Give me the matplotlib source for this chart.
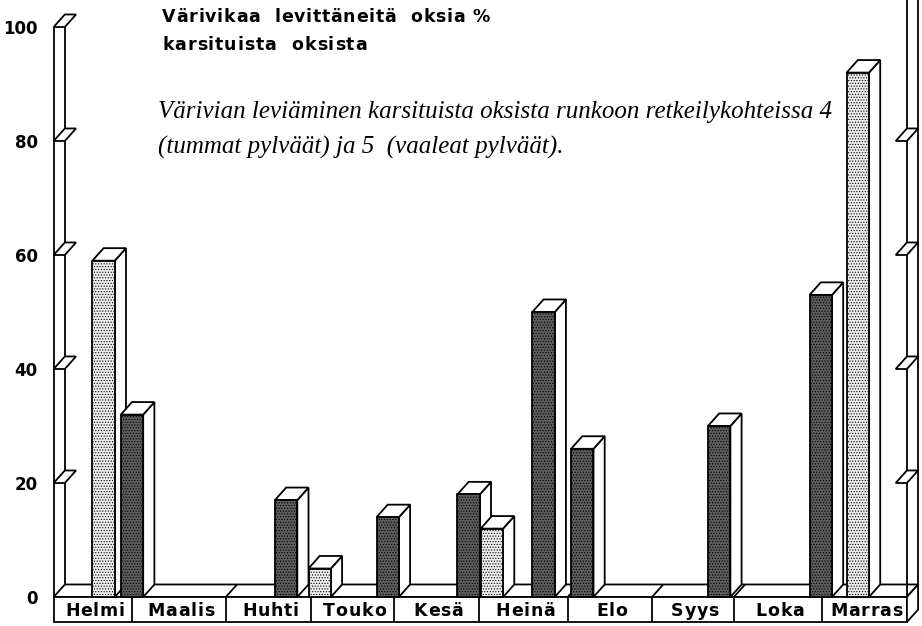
import numpy as np
import matplotlib.pyplot as plt
from matplotlib.patches import Polygon, Rectangle
from matplotlib.transforms import IdentityTransform
from matplotlib.font_manager import FontProperties, findfont
from matplotlib.ft2font import FT2Font

# month boxes along the bottom strip
months = ["Helmi", "Maalis", "Huhti", "Touko", "Kesä", "Heinä", "Elo", "Syys", "Loka", "Marras"]
# box edges on the time axis (months from start of Feb), as drawn in the figure
month_edges = [0.09, 1.0, 2.09, 3.08, 4.04, 5.03, 6.06, 7.04, 7.99, 9.01, 10.0]

# sampling time and % of pruned branches that spread the stain into the trunk
dark_time = [1.0, 2.79, 3.97, 4.91, 5.78, 6.23, 7.82, 9.0]     # site 4 (dark bars)
dark_pct = [32, 17, 14, 18, 50, 26, 30, 53]
light_time = [0.67, 3.18, 5.18, 9.43]                          # site 5 (light bars)
light_pct = [59, 5, 12, 92]

yticks = [0, 20, 40, 60, 80, 100]

# layout
W, H = 922, 626
START, END = month_edges[0], month_edges[-1]
DX, DY = 0.13, 2.2    # pseudo-3D depth offset in data units
STRIP = 4.4           # height of label strip
BW = 0.26             # bar width
LW = 1.3

plt.rcParams['hatch.linewidth'] = 0.5

fig = plt.figure(figsize=(W / 100, H / 100), dpi=100)
ax = fig.add_axes([53 / W, 0, 1 - 53 / W, 1])
ax.set_xlim(1 + (53 - 132) / 86.1, 1 + (W - 132) / 86.1)
ax.set_ylim(-29 / 5.70, 597 / 5.70)
for s in ax.spines.values():
    s.set_visible(False)
ax.set_xticks([])
ax.set_yticks(yticks, [str(t) for t in yticks])
ax.tick_params(axis='y', length=0, pad=11, labelsize=12)
for lab in ax.get_yticklabels():
    lab.set_fontweight('bold')


def poly(pts, z, fc='white'):
    ax.add_patch(Polygon(pts, closed=True, facecolor=fc, edgecolor='black',
                         linewidth=LW, zorder=z, clip_on=False, joinstyle='miter'))


def line(xs, ys, z=1.5):
    ax.plot(xs, ys, color='black', linewidth=LW, zorder=z, clip_on=False,
            solid_capstyle='butt')


def advances(s, size, weight='bold'):
    f = FT2Font(findfont(FontProperties(family='DejaVu Sans', weight=weight)))
    f.set_size(size, 100)
    return [f.load_char(ord(c)).linearHoriAdvance / 65536 for c in s]


def tracked(x, y, s, size, extra=0.0, width=None, ha='left'):
    # letter-spaced text, x/y in pixels from top-left
    adv = advances(s, size)
    natural = sum(adv)
    if width is not None:
        extra = (width - natural) / (len(s) - 1)
    total = natural + extra * (len(s) - 1)
    if ha == 'center':
        x = x - total / 2
    for ch, a in zip(s, adv):
        if ch != ' ':
            fig.text(x, H - y, ch, transform=IdentityTransform(), va='center',
                     fontsize=size, fontweight='bold', zorder=6)
        x += a + extra


# floor
poly([(START, 0), (END, 0), (END + DX, DY), (START + DX, DY)], 1)
for u in month_edges[1:-1]:
    line([u, u + DX], [0, DY])

# label strip
ax.add_patch(Rectangle((START, -STRIP), END - START, STRIP, facecolor='white',
                       edgecolor='black', linewidth=LW, zorder=1, clip_on=False))
poly([(END, 0), (END + DX, DY), (END + DX, DY - STRIP), (END, -STRIP)], 1)
for i, name in enumerate(months):
    if i > 0:
        line([month_edges[i], month_edges[i]], [0, -STRIP])
    cx, cy = ax.transData.transform(((month_edges[i] + month_edges[i + 1]) / 2, -STRIP / 2))
    tracked(cx + 2, H - cy + 1, name, 12.5, extra=0.8, ha='center')

# left wall with tick flags
top = ax.get_ylim()[1]
line([START, START], [0, 100])
line([START + DX, START + DX], [DY, 100])
for v in yticks[1:]:
    poly([(START, v), (START + DX, v), (START + 2 * DX, v + DY), (START + DX, v + DY)], 1.6)

# right wall with tick flags
line([END, END], [0, top])
line([END + DX, END + DX], [DY, top])
for v in yticks[1:-1]:
    poly([(END - DX, v), (END, v), (END + DX, v + DY), (END, v + DY)], 1.6)

# bars, drawn from left to right so nearer ones overlap
bars = [(t, p, 'dark') for t, p in zip(dark_time, dark_pct)] + \
       [(t, p, 'light') for t, p in zip(light_time, light_pct)]
bars.sort()
for i, (t, p, kind) in enumerate(bars):
    z = 2 + i * 0.05
    fc = '#5c5c5c' if kind == 'dark' else '#ececec'
    ax.bar(t, p, width=BW, facecolor=fc, edgecolor='black', linewidth=LW,
           hatch='......', zorder=z)
    x0, x1 = t - BW / 2, t + BW / 2
    poly([(x1, 0), (x1 + DX, DY), (x1 + DX, p + DY), (x1, p)], z - 0.01)
    poly([(x0, p), (x1, p), (x1 + DX, p + DY), (x0 + DX, p + DY)], z - 0.01)

# headings
tracked(162, 17, "Värivikaa  levittäneitä  oksia %", 12.5, width=328)
tracked(162, 45, "karsituista  oksista", 12.5, width=205)
fig.text(158 / W, 1 - 112 / H,
         "Värivian leviäminen karsituista oksista runkoon retkeilykohteissa 4",
         fontsize=18, family='Liberation Serif', style='italic', va='center')
fig.text(158 / W, 1 - 147 / H, "(tummat pylväät) ja 5  (vaaleat pylväät).",
         fontsize=18, family='Liberation Serif', style='italic', va='center')

fig.savefig("out.png", dpi=100)
